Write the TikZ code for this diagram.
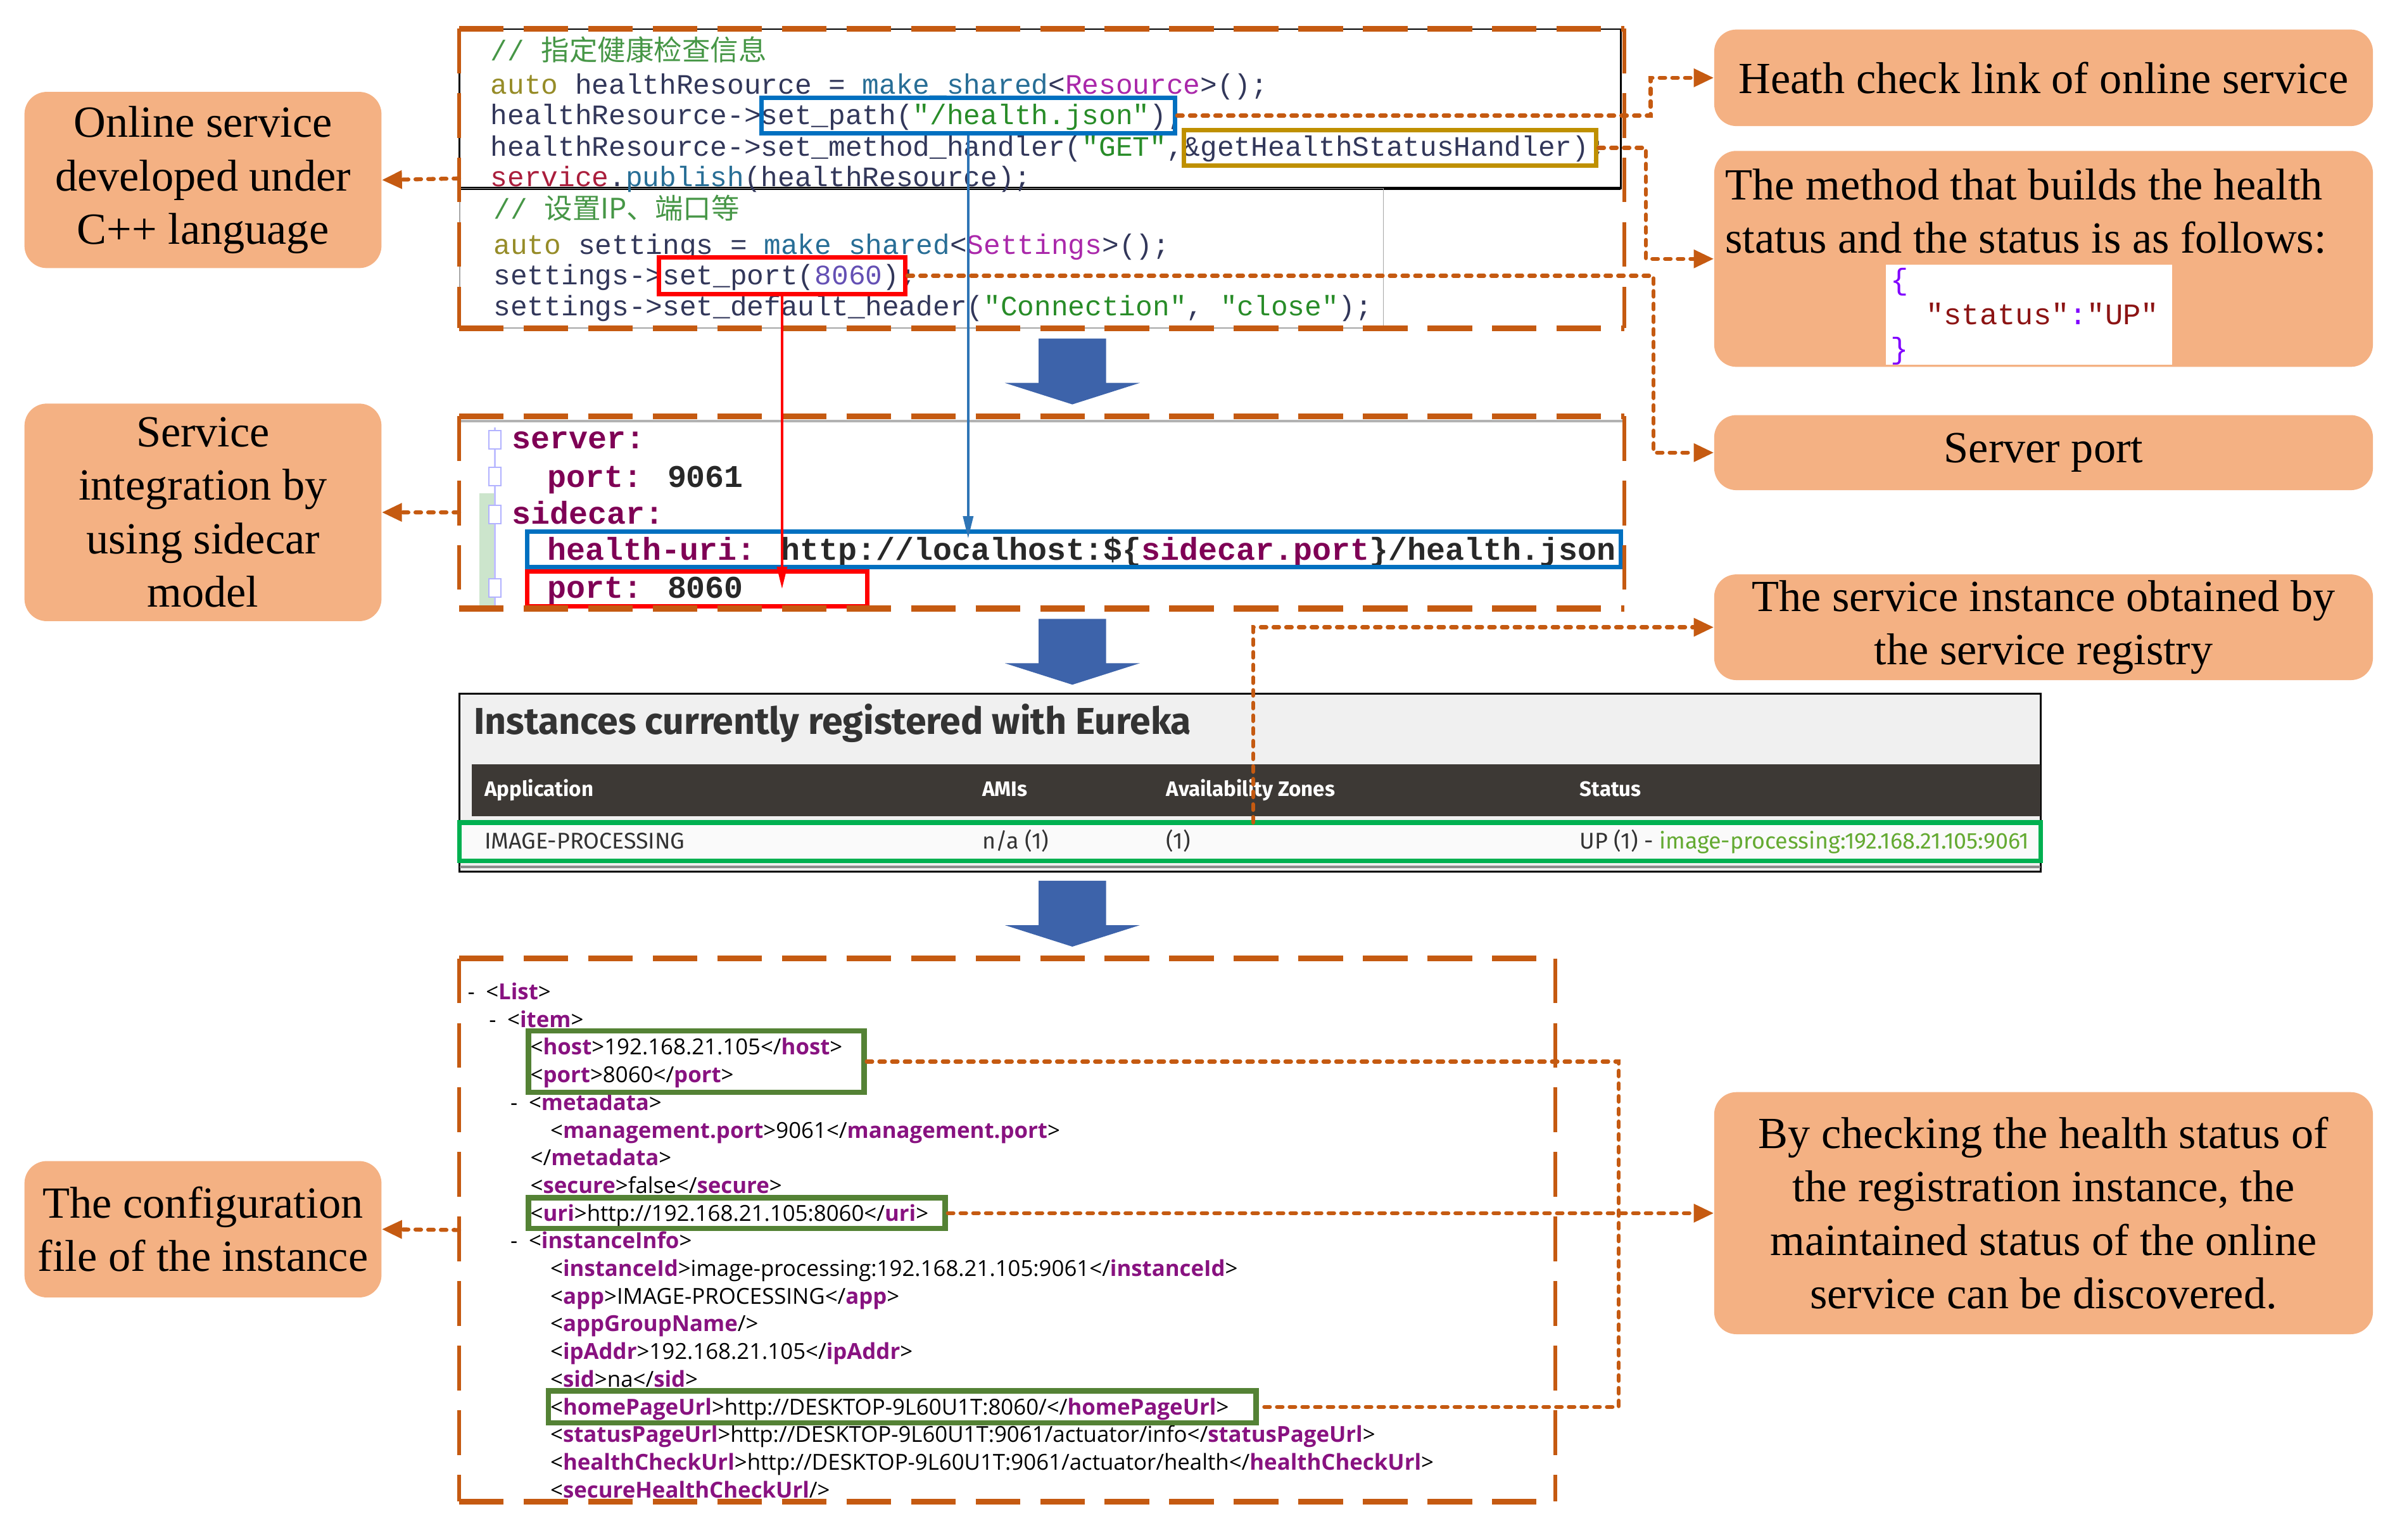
\documentclass[tikz,border=0pt]{standalone}
\usepackage{fontspec}
\setmainfont{Liberation Serif}
\newfontfamily\cjkfont{Noto Sans CJK SC}
\newfontfamily\cppfont{Liberation Mono}
\newfontfamily\eurekafont{Fira Sans}
\newfontfamily\xmlfont{Open Sans}
\usetikzlibrary{arrows.meta,fit,calc}

\definecolor{boxfill}{RGB}{244,177,131}
\definecolor{panelorange}{RGB}{197,90,17}
\definecolor{flowblue}{RGB}{61,99,170}
\definecolor{markblue}{RGB}{0,112,192}
\definecolor{markgold}{RGB}{191,144,0}
\definecolor{markred}{RGB}{255,0,0}
\definecolor{markgreen}{RGB}{0,176,80}
\definecolor{xmlgreen}{RGB}{84,130,53}
\definecolor{linkblue}{RGB}{46,117,182}
\definecolor{cppcmt}{RGB}{70,150,70}
\definecolor{cppkw}{RGB}{150,140,40}
\definecolor{cppid}{RGB}{50,55,90}
\definecolor{cppfn}{RGB}{40,110,150}
\definecolor{cppty}{RGB}{170,40,170}
\definecolor{cppstr}{RGB}{40,140,40}
\definecolor{cppsv}{RGB}{170,30,60}
\definecolor{cppnum}{RGB}{100,80,180}
\definecolor{ymlkey}{RGB}{127,0,85}
\definecolor{ymlval}{RGB}{40,40,40}
\definecolor{eubg}{RGB}{240,240,240}
\definecolor{eudark}{RGB}{61,57,53}
\definecolor{eutext}{RGB}{51,51,51}
\definecolor{eugreen}{RGB}{100,170,50}
\definecolor{xtag}{RGB}{136,18,128}
\definecolor{jsbrace}{RGB}{128,0,255}
\definecolor{jsstr}{RGB}{140,20,20}

\newcommand{\xopen}[1]{<\textcolor{xtag}{\bfseries #1}>}
\newcommand{\xclose}[1]{</\textcolor{xtag}{\bfseries #1}>}
\newcommand{\xempty}[1]{<\textcolor{xtag}{\bfseries #1}/>}

\tikzset{
  infobox/.style={fill=boxfill, rounded corners=10pt, inner sep=2pt, align=center,
    font=\fontsize{20}{24}\selectfont},
  boxtext/.style={inner sep=0pt, font=\fontsize{20}{24}\selectfont},
  panelbox/.style={inner sep=0pt},
  hdash/.style={draw=panelorange, line width=2.6pt, dash pattern=on 20pt off 9pt},
  vdash/.style={draw=panelorange, line width=1.6pt, dash pattern=on 20pt off 9pt},
  hilite/.style={draw=#1, line width=2pt, inner sep=0pt},
  link/.style={draw=panelorange, line width=1.8pt, line cap=round,
    dash pattern=on 2.5pt off 3.2pt, -{Triangle[length=9pt,width=8pt]}},
  jump/.style={draw=#1, line width=1.1pt, -{Triangle[length=10pt,width=4.5pt]}},
  cpp/.style={anchor=base west, inner sep=0pt, text=cppid,
    font=\cppfont\fontsize{12.65}{14}\selectfont},
  yml/.style={anchor=base west, inner sep=0pt, text=ymlkey,
    font=\cppfont\bfseries\fontsize{14.2}{16}\selectfont},
  json/.style={anchor=base west, inner sep=0pt, font=\cppfont\fontsize{13.4}{15}\selectfont},
  eu/.style={anchor=base west, inner sep=0pt, text=eutext,
    font=\eurekafont\fontsize{10.2}{12}\selectfont},
  euhead/.style={eu, text=white, font=\eurekafont\bfseries\fontsize{9.4}{11}\selectfont},
  xml/.style={anchor=base west, inner sep=0pt, font=\xmlfont\fontsize{9.9}{11}\selectfont},
  flow/.style={fill=flowblue},
}

\begin{document}
\begin{tikzpicture}[x=0.02419cm, y=-0.02419cm]
\useasboundingbox (0,0) rectangle (1568,1005);

% Left description boxes
\node[infobox, minimum width=5.636cm, minimum height=2.782cm] (online) at (132.5,117.5)
  {Online service\\developed under\\C++ language};
\node[infobox, minimum width=5.636cm, minimum height=3.435cm] (sidecar) at (132.5,334.5)
  {Service\\integration by\\using sidecar\\model};
\node[infobox, minimum width=5.636cm, minimum height=2.153cm] (conf) at (132.5,802.5)
  {The configuration\\file of the instance};

% Right description boxes
\node[infobox, minimum width=10.40cm, minimum height=1.524cm] (hc) at (1334,50.8)
  {Heath check link of online service};
\node[infobox, minimum width=10.40cm, minimum height=3.41cm] (method) at (1334,169) {};
\node[boxtext, anchor=west, align=left] (methodtxt) at (1126,138)
  {The method that builds the health\\status and the status is as follows:};
\node[fill=white, inner sep=0pt, fit={(1231,173)(1418,238)}] (jsonbox) {};
\node[json, text=jsbrace] (js1) at (1234,189) {\{};
\node[json, text=jsstr] (js2) at (1257,212) {"status"\textcolor{jsbrace}{:}"UP"};
\node[json, text=jsbrace] (js3) at (1234,234) {\}};
\node[infobox, minimum width=10.40cm, minimum height=1.185cm] (srvport) at (1334,295.5)
  {Server port};
\node[infobox, minimum width=10.40cm, minimum height=1.669cm] (registry) at (1334,409.5)
  {The service instance obtained by\\the service registry};
\node[infobox, minimum width=10.40cm, minimum height=3.822cm] (discover) at (1334,792)
  {By checking the health status of\\the registration instance, the\\maintained status of the online\\service can be discovered.};

% C++ snapshot
\draw[black, line width=0.8pt] (300,19) rectangle (1058,123);
\draw[black, line width=1.6pt] (300,123) -- (1058,123);
\draw[black!35, line width=0.5pt] (300,123) rectangle (903,214);
\node[cpp] (c1) at (320,39.5) {\textcolor{cppcmt}{// {\cjkfont 指定健康检查信息}}};
\node[cpp] (c2) at (320,61.3) {\textcolor{cppkw}{auto} healthResource = \textcolor{cppfn}{make\_shared}<\textcolor{cppty}{Resource}>();};
\node[cpp] (c3) at (320,81.3) {healthResource->set\_path(\textcolor{cppstr}{"/health.json"});};
\node[cpp] (c4) at (320,101.9) {healthResource->set\_method\_handler(\textcolor{cppstr}{"GET"},\&getHealthStatusHandler);};
\node[cpp] (c5) at (320,121.9) {\textcolor{cppsv}{service}.\textcolor{cppfn}{publish}(healthResource);};
\node[cpp] (c6) at (322,143) {\textcolor{cppcmt}{// {\cjkfont 设置IP、端口等}}};
\node[cpp] (c7) at (322,166) {\textcolor{cppkw}{auto} settings = \textcolor{cppfn}{make\_shared}<\textcolor{cppty}{Settings}>();};
\node[cpp] (c8) at (322,185.9) {settings->set\_port(\textcolor{cppnum}{8060});};
\node[cpp] (c9) at (322,205.9) {settings->set\_default\_header(\textcolor{cppstr}{"Connection"}, \textcolor{cppstr}{"close"});};
\node[hilite=markblue, fit={(497,64)(767,87)}] (bpath) {};
\node[hilite=markgold, fit={(773,85)(1042,108)}] (handler) {};
\node[hilite=markred, fit={(430,168)(591,192)}] (port1) {};

% sidecar snapshot
\draw[black!30, line width=1pt] (300,275) -- (1060,275);
\fill[green!50!black!20] (313,322) rectangle (323,396);
\draw[blue!25, line width=0.8pt] (323,279) -- (323,395);
\foreach \fy in {287,311,336,384}
  \draw[blue!30, fill=white, line width=0.6pt] (319,\fy-6) rectangle (327,\fy+6);
\node[yml] (y1) at (334,293) {server:};
\node[yml] (y2) at (357,318) {port: \textcolor{ymlval}{9061}};
\node[yml] (y3) at (334,342) {sidecar:};
\node[yml] (y4) at (357,365.6) {health-uri: \textcolor{ymlval}{http://localhost:\$\{}sidecar.port\textcolor{ymlval}{\}/health.json}};
\node[yml] (y5) at (357,390.4) {port: \textcolor{ymlval}{8060}};
\node[hilite=markblue, fit={(344,347)(1058,370)}] (yuri) {};
\node[hilite=markred, fit={(344,373)(566,396)}] (yport) {};

% Eureka snapshot
\node[fit={(300,453)(1332,569)}, inner sep=0pt, draw=black, line width=0.9pt, fill=eubg] (eureka) {};
\fill[eudark] (308,499) rectangle (1332,533);
\fill[black!2] (300,537) rectangle (1332,562);
\draw[black!45, line width=1pt] (300,566) -- (1332,566);
\node[eu, font=\eurekafont\bfseries\fontsize{16.8}{19}\selectfont] (eutitle) at (309,479.5) {Instances currently registered with Eureka};
\node[euhead] (h1) at (316,520) {Application};
\node[euhead] (h2) at (641,520) {AMIs};
\node[euhead] (h3) at (761,520) {Availability Zones};
\node[euhead] (h4) at (1031,520) {Status};
\node[eu] (r1) at (316,554) {IMAGE-PROCESSING};
\node[eu] (r2) at (641,554) {n/a (1)};
\node[eu] (r3) at (761,554) {(1)};
\node[eu] (r4) at (1031,554) {UP (1) - \textcolor{eugreen}{image-processing:192.168.21.105:9061}};
\node[hilite=markgreen, fit={(300,537)(1332,562)}] (instrow) {};
\coordinate (regfoot) at (818,537);

% XML snapshot
\node[xml] (x1) at (305,652.5) {-\hspace{5pt}\xopen{List}};
\node[xml] (x2) at (319,670.6) {-\hspace{5pt}\xopen{item}};
\node[xml] (x3) at (346,688.6) {\xopen{host}192.168.21.105\xclose{host}};
\node[xml] (x4) at (346,706.7) {\xopen{port}8060\xclose{port}};
\node[xml] (x5) at (333,724.8) {-\hspace{5pt}\xopen{metadata}};
\node[xml] (x6) at (359,742.9) {\xopen{management.port}9061\xclose{management.port}};
\node[xml] (x7) at (346,760.9) {\xclose{metadata}};
\node[xml] (x8) at (346,779.0) {\xopen{secure}false\xclose{secure}};
\node[xml] (x9) at (346,797.1) {\xopen{uri}http://192.168.21.105:8060\xclose{uri}};
\node[xml] (x10) at (333,815.1) {-\hspace{5pt}\xopen{instanceInfo}};
\node[xml] (x11) at (359,833.2) {\xopen{instanceId}image-processing:192.168.21.105:9061\xclose{instanceId}};
\node[xml] (x12) at (359,851.3) {\xopen{app}IMAGE-PROCESSING\xclose{app}};
\node[xml] (x13) at (359,869.3) {\xempty{appGroupName}};
\node[xml] (x14) at (359,887.4) {\xopen{ipAddr}192.168.21.105\xclose{ipAddr}};
\node[xml] (x15) at (359,905.5) {\xopen{sid}na\xclose{sid}};
\node[xml] (x16) at (359,923.6) {\xopen{homePageUrl}http://DESKTOP-9L60U1T:8060/\xclose{homePageUrl}};
\node[xml] (x17) at (359,941.6) {\xopen{statusPageUrl}http://DESKTOP-9L60U1T:9061/actuator/info\xclose{statusPageUrl}};
\node[xml] (x18) at (359,959.7) {\xopen{healthCheckUrl}http://DESKTOP-9L60U1T:9061/actuator/health\xclose{healthCheckUrl}};
\node[xml] (x19) at (359,977.8) {\xempty{secureHealthCheckUrl}};
\node[hilite=xmlgreen, line width=2.4pt, fit={(345,673)(564,713)}] (xhost) {};
\node[hilite=xmlgreen, line width=2.4pt, fit={(345,782)(617,802)}] (xuri) {};
\node[hilite=xmlgreen, line width=2.4pt, fit={(358,908)(820,929)}] (xhome) {};

% Dashed frames round the snapshots
\node[panelbox, fit={(300,19)(1060,214)}] (cpp) {};
\node[panelbox, fit={(300,272)(1060,397)}] (yaml) {};
\node[panelbox, fit={(300,626)(1015,980)}] (xml) {};
\foreach \p in {cpp,yaml,xml} {
  \draw[hdash] (\p.north west) -- (\p.north east) (\p.south west) -- (\p.south east);
  \draw[vdash] (\p.north west) -- (\p.south west) (\p.north east) -- (\p.south east);
}

% Block arrows between the steps
\foreach \ty in {221,404,575}
  \fill[flow] (678,\ty) -- (722,\ty) -- (722,\ty+29) -- (744,\ty+29) -- (700,\ty+43)
    -- (656,\ty+29) -- (678,\ty+29) -- cycle;

% Values carried from the code into the sidecar file
\draw[jump=linkblue] (bpath.south) -- ($(bpath.south |- yuri.north)+(0,6)$);
\draw[jump=markred] (port1.south) -- (port1.south |- yport.center);

% Dotted links to the descriptions
\draw[link] (cpp.west) -- (online.east);
\draw[link] (yaml.west) -- (sidecar.east);
\draw[link] (xml.west) -- (conf.east);
\draw[link] (bpath.east) -- ++(309,0) |- (hc.west);
\draw[link] (handler.east) -- ++(31,0) |- (method.west);
\draw[link] (port1.east) -- ++(487,0) |- (srvport.west);
\draw[link] (regfoot) |- (registry.west);
\draw[link] (xuri.east) -- (discover.west);
\draw[link, -] (xhost.east) -- ++(491,0) |- (xhome.east);
\end{tikzpicture}
\end{document}
